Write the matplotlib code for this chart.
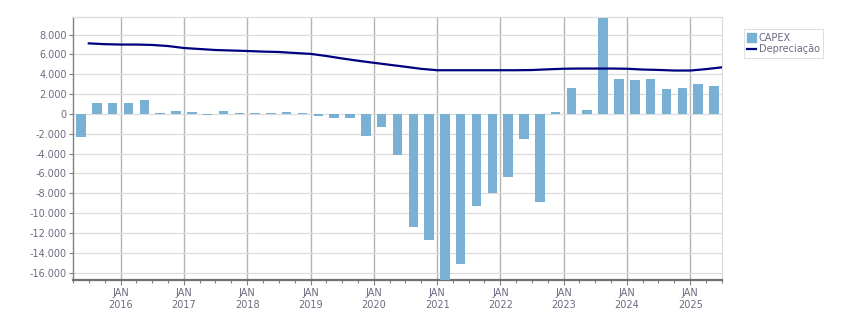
import matplotlib
matplotlib.use("Agg")
import matplotlib.pyplot as plt
import matplotlib.dates as mdates
from matplotlib.patches import Patch
from matplotlib.lines import Line2D
from matplotlib.ticker import FuncFormatter
import pandas as pd

# quarters from Q2 2015 to Q2 2025
quarters = pd.period_range("2015Q2", "2025Q2", freq="Q")

# CAPEX per quarter
capex = [-2350, 1140, 1140, 1140, 1450, 130, 340, 235, -70, 340,
         130, 130, 130, 235, 130, -170, -370, -370, -2200, -1280,
         -4110, -11380, -12700, -17000, -15120, -9260, -7950, -6330, -2490, -8850,
         200, 2660, 440, 9660, 3570, 3470, 3570, 2560, 2660, 3060,
         2860]

# Depreciacao per quarter (plotted at quarter end)
deprec = [7120, 7040, 7000, 7000, 6960, 6850, 6650, 6550, 6450, 6400,
          6350, 6290, 6250, 6150, 6060, 5850, 5600, 5370, 5160, 4960,
          4760, 4550, 4410, 4410, 4410, 4410, 4410, 4410, 4430, 4500,
          4560, 4580, 4580, 4580, 4560, 4480, 4440, 4380, 4380, 4520,
          4700]

yticks = list(range(-16000, 8001, 2000))

text_col = "#6B6B80"

bar_x = [q.start_time + (q.end_time - q.start_time) / 2 for q in quarters]
line_x = [(q + 1).start_time for q in quarters]

fig = plt.figure(figsize=(8.51, 3.13), dpi=100)
ax = fig.add_axes([0.0858, 0.1054, 0.848 - 0.0858, 0.9457 - 0.1054])

ax.bar(bar_x, capex, width=55, color="#78B1D4", zorder=3)
ax.plot(line_x, deprec, color="#000080", lw=1.6, zorder=4)

ax.set_xlim(pd.Timestamp("2015-04-01"), pd.Timestamp("2025-07-01"))
ax.set_ylim(-16750, 9780)

# grid: light horizontal, darker vertical at years
ax.set_yticks(yticks)
ax.yaxis.set_major_formatter(FuncFormatter(lambda v, p: f"{v:,.0f}".replace(",", ".")))
ax.grid(axis="y", color="#DCDCDC", lw=0.9, zorder=0)
ax.xaxis.set_major_locator(mdates.YearLocator())
ax.xaxis.set_minor_locator(mdates.MonthLocator(bymonth=[1, 4, 7, 10]))
ax.xaxis.set_major_formatter(FuncFormatter(lambda v, p: "JAN\n" + mdates.num2date(v).strftime("%Y")))
ax.grid(axis="x", which="major", color="#B4B4B4", lw=1.0, zorder=1)

ax.tick_params(axis="y", length=3, width=0.8, color="#808080", pad=1.5,
               labelsize=7, labelcolor=text_col)
ax.tick_params(axis="x", which="major", length=3.5, width=0.8, color="#808080", pad=2.5,
               labelsize=7, labelcolor=text_col)
ax.tick_params(axis="x", which="minor", length=2.5, width=0.8, color="#808080")
for lab in ax.get_xticklabels():
    lab.set_linespacing(1.25)

ax.spines["left"].set_color("#808080")
ax.spines["left"].set_linewidth(1.0)
ax.spines["bottom"].set_color("#707070")
ax.spines["bottom"].set_linewidth(1.6)
ax.spines["top"].set_color("#DCDCDC")
ax.spines["right"].set_color("#DCDCDC")
ax.spines["top"].set_linewidth(0.9)
ax.spines["right"].set_linewidth(0.9)

handles = [Patch(color="#78B1D4", label="CAPEX"),
           Line2D([0], [0], color="#000080", lw=1.6, label="Depreciação")]
leg = fig.legend(handles=handles, loc="upper left", bbox_to_anchor=(0.874, 0.906),
                 fontsize=7, frameon=True, fancybox=False, edgecolor="#D8D8D8",
                 handlelength=0.9, handleheight=0.9, handletextpad=0.3,
                 borderpad=0.35, labelspacing=0.15, borderaxespad=0)
leg.get_frame().set_linewidth(0.8)
for t in leg.get_texts():
    t.set_color(text_col)

plt.savefig("out.png", dpi=100)
